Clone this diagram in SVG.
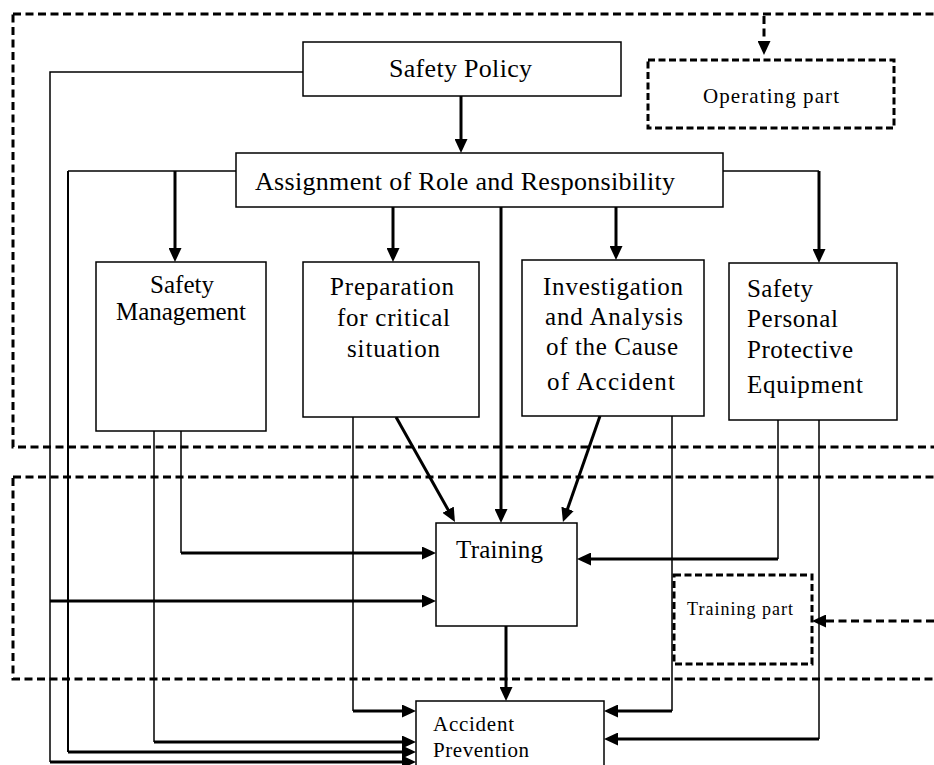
<svg xmlns="http://www.w3.org/2000/svg" width="934" height="765" viewBox="0 0 934 765">
<style>
  .box { fill: #fff; stroke: #000; stroke-width: 1.5; }
  .frame { fill: none; stroke: #000; stroke-width: 3; stroke-dasharray: 8 4.5; }
  .dbox { fill: #fff; stroke: #000; stroke-width: 3; stroke-dasharray: 7 3.5; }
  .t { font-family: "Liberation Serif", "Times New Roman", serif; fill: #000; }
  .thin { fill: none; stroke: #000; stroke-width: 1.5; }
  .mid { fill: none; stroke: #000; stroke-width: 2; }
  .arr { fill: none; stroke: #000; stroke-width: 3; marker-end: url(#ah); }
  .darr { fill: none; stroke: #000; stroke-width: 3; stroke-dasharray: 8 4.5; marker-end: url(#ah); }
</style>
<defs>
  <marker id="ah" viewBox="0 0 14 13" markerWidth="14" markerHeight="13" refX="9" refY="6.5" orient="auto" markerUnits="userSpaceOnUse">
    <path d="M0,0 L14,6.5 L0,13 z" fill="#000" stroke="none"/>
  </marker>
</defs>
<rect width="934" height="765" fill="#fff"/>

<g id="frames">
  <rect class="frame" x="13" y="14" width="940" height="433"/>
  <rect class="frame" x="13" y="477" width="940" height="202"/>
</g>

<g id="connectors">
  <path class="arr" d="M461,96 V148"/>
  <path class="thin" d="M303,72 H50 V762"/>
  <path class="arr" d="M50,762 H411"/>
  <path class="arr" d="M50,601 H431"/>
  <path class="thin" d="M236,171 H68"/>
  <path class="mid" d="M68,171 V752"/>
  <path class="arr" d="M68,752 H411"/>
  <path class="arr" d="M175,171 V257"/>
  <path class="thin" d="M723,171 H819"/>
  <path class="arr" d="M819,171 V258"/>
  <path class="arr" d="M393,207 V257"/>
  <path class="arr" d="M501,207 V518"/>
  <path class="arr" d="M616,207 V255"/>
  <path class="thin" d="M154,431 V742"/>
  <path class="arr" d="M154,742 H411"/>
  <path class="thin" d="M181,431 V553"/>
  <path class="arr" d="M181,553 H431"/>
  <path class="thin" d="M353,417 V711"/>
  <path class="arr" d="M353,711 H411"/>
  <path class="arr" d="M396,417 L452.5,517.6"/>
  <path class="thin" d="M672,416 V711"/>
  <path class="arr" d="M672,711 H609"/>
  <path class="arr" d="M600,416 L564.6,517.3"/>
  <path class="thin" d="M778,420 V559"/>
  <path class="arr" d="M778,559 H582"/>
  <path class="thin" d="M819,420 V739"/>
  <path class="arr" d="M819,739 H609"/>
  <path class="arr" d="M506,626 V696"/>
  <path class="darr" d="M764,16 V50"/>
  <path class="darr" d="M934,621 H817"/>
</g>

<g id="operating-part">
  <rect class="dbox" x="648" y="60" width="246" height="68"/>
  <text class="t" x="703" y="103" font-size="21" textLength="136" lengthAdjust="spacing">Operating part</text>
</g>

<g id="training-part">
  <rect class="dbox" x="674" y="575" width="138" height="89"/>
  <text class="t" x="687" y="615" font-size="18" textLength="106" lengthAdjust="spacing">Training part</text>
</g>

<g id="safety-policy">
  <rect class="box" x="303" y="42" width="318" height="54"/>
  <text class="t" x="389" y="77" font-size="26" textLength="143" lengthAdjust="spacing">Safety Policy</text>
</g>

<g id="assignment">
  <rect class="box" x="236" y="153" width="487" height="54"/>
  <text class="t" x="255" y="190" font-size="26" textLength="420" lengthAdjust="spacing">Assignment of Role and Responsibility</text>
</g>

<g id="safety-management">
  <rect class="box" x="96" y="262" width="170" height="169"/>
  <text class="t" x="150" y="293" font-size="25" textLength="64" lengthAdjust="spacing">Safety</text>
  <text class="t" x="116" y="320" font-size="25" textLength="130" lengthAdjust="spacing">Management</text>
</g>

<g id="preparation">
  <rect class="box" x="303" y="262" width="176" height="155"/>
  <text class="t" x="330" y="295" font-size="25" textLength="124" lengthAdjust="spacing">Preparation</text>
  <text class="t" x="337" y="326" font-size="25" textLength="113" lengthAdjust="spacing">for critical</text>
  <text class="t" x="347" y="357" font-size="25" textLength="93" lengthAdjust="spacing">situation</text>
</g>

<g id="investigation">
  <rect class="box" x="522" y="260" width="182" height="156"/>
  <text class="t" x="543" y="295" font-size="25" textLength="140" lengthAdjust="spacing">Investigation</text>
  <text class="t" x="545" y="325" font-size="25" textLength="138" lengthAdjust="spacing">and Analysis</text>
  <text class="t" x="546" y="355" font-size="25" textLength="132" lengthAdjust="spacing">of the Cause</text>
  <text class="t" x="547" y="390" font-size="25" textLength="128" lengthAdjust="spacing">of Accident</text>
</g>

<g id="ppe">
  <rect class="box" x="729" y="263" width="168" height="157"/>
  <text class="t" x="747" y="297" font-size="25" textLength="66" lengthAdjust="spacing">Safety</text>
  <text class="t" x="747" y="327" font-size="25" textLength="91" lengthAdjust="spacing">Personal</text>
  <text class="t" x="747" y="358" font-size="25" textLength="106" lengthAdjust="spacing">Protective</text>
  <text class="t" x="747" y="393" font-size="25" textLength="116" lengthAdjust="spacing">Equipment</text>
</g>

<g id="training">
  <rect class="box" x="436" y="523" width="141" height="103"/>
  <text class="t" x="456" y="558" font-size="25" textLength="87" lengthAdjust="spacing">Training</text>
</g>

<g id="accident-prevention">
  <rect class="box" x="416" y="701" width="188" height="100"/>
  <text class="t" x="433" y="731" font-size="21" textLength="81" lengthAdjust="spacing">Accident</text>
  <text class="t" x="433" y="757" font-size="21" textLength="96" lengthAdjust="spacing">Prevention</text>
</g>
</svg>
